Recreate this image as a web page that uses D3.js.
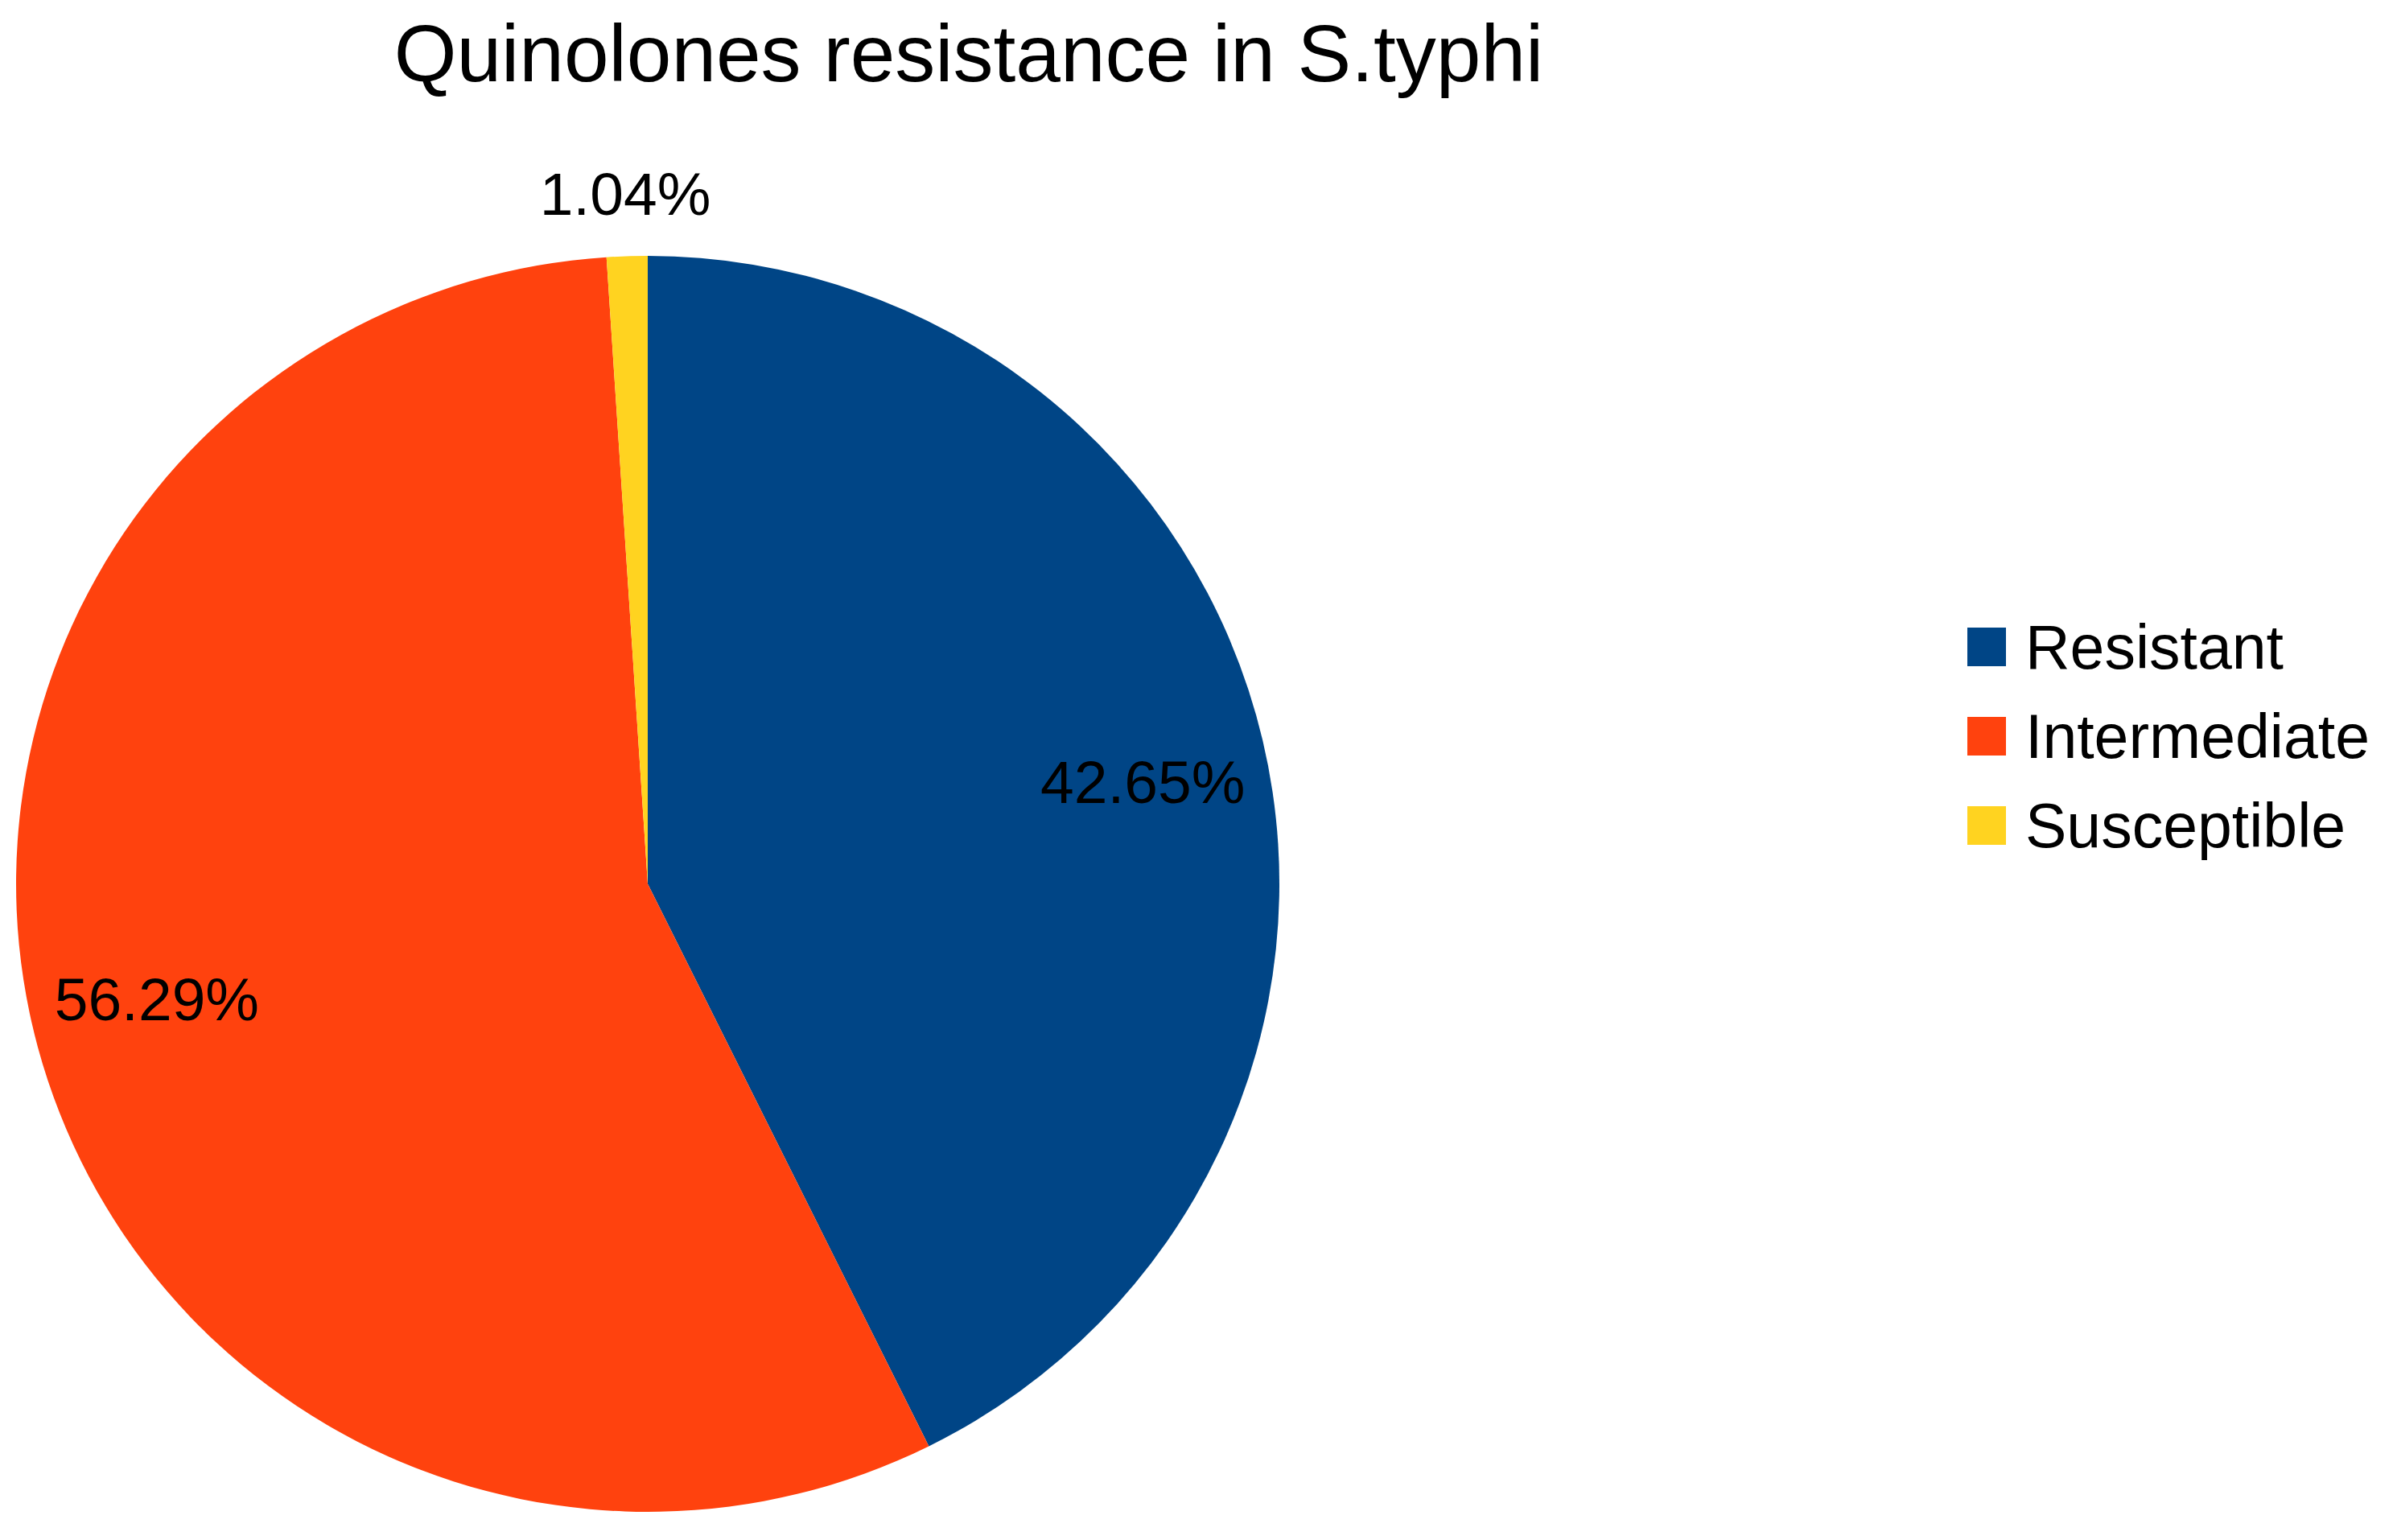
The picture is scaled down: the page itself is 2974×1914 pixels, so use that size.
<!DOCTYPE html>
<html>
<head>
<meta charset="utf-8">
<script src="https://cdn.jsdelivr.net/npm/d3@7"></script>
<style>
  html, body { margin: 0; padding: 0; background: #ffffff; }
  svg { display: block; }
  text { font-family: "Liberation Sans", Arial, sans-serif; fill: #000000; }
</style>
</head>
<body>
<svg id="chart" width="2974" height="1914"></svg>
<script>
const title = "Quinolones resistance in S.typhi";
const categories = ["Resistant", "Intermediate", "Susceptible"];
const values = [42.65, 56.29, 1.04];
const valueLabels = ["42.65%", "56.29%", "1.04%"];
const colors = ["#004586", "#ff420e", "#ffd320"];

const W = 2974, H = 1914;
const svg = d3.select("#chart");
svg.append("rect").attr("width", W).attr("height", H).attr("fill", "#ffffff");

const cx = 805, cy = 1098.5, r = 780.5, sx = 785 / 780.5;

svg.append("text")
  .attr("x", 1204).attr("y", 101)
  .attr("text-anchor", "middle")
  .attr("font-size", 100)
  .text(title);

const pie = d3.pie().sort(null).value(d => d);
const arcs = pie(values);
const arc = d3.arc().innerRadius(0).outerRadius(r);
const color = d3.scaleOrdinal().domain(categories).range(colors);

const g = svg.append("g").attr("transform", `translate(${cx},${cy}) scale(${sx},1)`);
g.selectAll("path.slice")
  .data(arcs)
  .join("path")
  .attr("class", "slice")
  .attr("d", arc)
  .attr("fill", (d, i) => color(categories[i]));

const inner = d3.arc().innerRadius(r * 0.805).outerRadius(r * 0.805);
const outer = d3.arc().innerRadius(r + 77).outerRadius(r + 77);
const lg = svg.append("g").attr("transform", `translate(${cx},${cy})`);
lg.selectAll("text.lbl")
  .data(arcs)
  .join("text")
  .attr("class", "lbl")
  .attr("font-size", 75)
  .attr("text-anchor", "middle")
  .attr("dominant-baseline", "central")
  .attr("transform", d => {
    const frac = (d.endAngle - d.startAngle) / (2 * Math.PI);
    let p;
    if (frac > 0.05) { const c = inner.centroid(d); p = [c[0] * sx, c[1] * 0.88]; }
    else { p = outer.centroid(d); }
    return `translate(${p[0]},${p[1]})`;
  })
  .text((d, i) => valueLabels[i]);

const legend = svg.append("g").attr("transform", "translate(2445,780)");
const rowH = 111;
const items = legend.selectAll("g.item")
  .data(categories)
  .join("g")
  .attr("class", "item")
  .attr("transform", (d, i) => `translate(0,${i * rowH})`);
items.append("rect")
  .attr("width", 48).attr("height", 48)
  .attr("fill", d => color(d));
items.append("text")
  .attr("x", 72).attr("y", 51)
  .attr("font-size", 77)
  .text(d => d);
</script>
</body>
</html>
